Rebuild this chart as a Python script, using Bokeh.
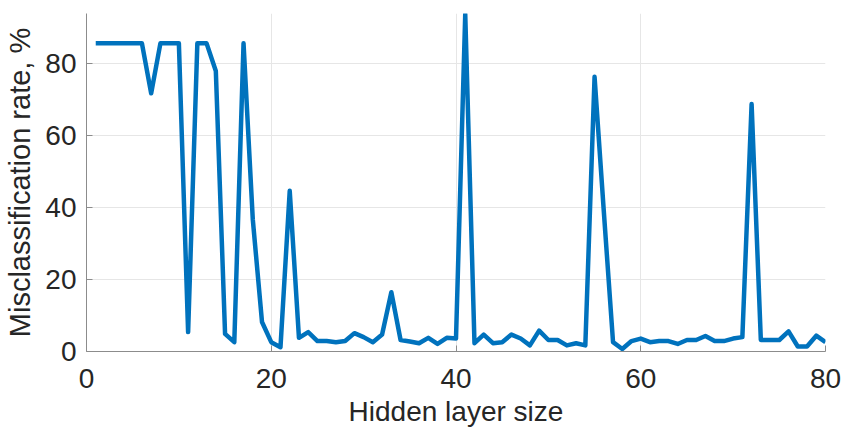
from bokeh.plotting import figure
from bokeh.models import Range1d, FixedTicker
from bokeh.embed import file_html
from bokeh.resources import INLINE

hidden_size = list(range(1, 81))
misclass_rate = [
    85.7, 85.7, 85.7, 85.7, 85.7, 85.7, 71.8, 85.7, 85.7, 85.7,
    5.4, 85.7, 85.7, 78.0, 4.9, 2.6, 85.7, 36.8, 8.2, 2.6,
    1.2, 44.7, 3.8, 5.4, 2.9, 2.9, 2.6, 2.9, 5.1, 4.0,
    2.6, 4.7, 16.5, 3.2, 2.8, 2.3, 3.8, 2.1, 3.8, 3.6,
    93.8, 2.3, 4.7, 2.3, 2.6, 4.7, 3.6, 1.7, 5.8, 3.2,
    3.2, 1.7, 2.3, 1.7, 76.4, 39.0, 2.6, 0.7, 2.9, 3.6,
    2.6, 2.9, 2.9, 2.1, 3.2, 3.2, 4.3, 2.9, 2.9, 3.6,
    4.0, 68.8, 3.2, 3.2, 3.2, 5.6, 1.4, 1.4, 4.4, 2.6,
]
x_ticks = [0, 20, 40, 60, 80]
y_ticks = [0, 20, 40, 60, 80]

FONT = "Liberation Sans"

p = figure(width=841, height=429, output_backend="svg", toolbar_location=None,
           x_range=Range1d(0, 80), y_range=Range1d(0, 94),
           min_border_left=86, min_border_right=16, min_border_top=13, min_border_bottom=78)
p.outline_line_color = None
p.background_fill_color = "white"

p.line(hidden_size, misclass_rate, line_color="#0072BD", line_width=4.5, line_join="round")

for ax in (p.xaxis[0], p.yaxis[0]):
    ax.axis_line_color = "#8c8c8c"
    ax.major_tick_line_color = "#8c8c8c"
    ax.major_tick_in = 6
    ax.major_tick_out = 0
    ax.minor_tick_line_color = None
    ax.major_label_text_font = FONT
    ax.major_label_text_font_size = "28px"
    ax.major_label_text_color = "#262626"
    ax.axis_label_text_font = FONT
    ax.axis_label_text_font_size = "29px"
    ax.axis_label_text_font_style = "normal"
    ax.axis_label_text_color = "#262626"

p.xaxis.axis_label_text_font_size = "28px"
p.xaxis.ticker = FixedTicker(ticks=x_ticks)
p.yaxis.ticker = FixedTicker(ticks=y_ticks)
p.xaxis.axis_label = "Hidden layer size"
p.yaxis.axis_label = "Misclassification rate, %"
p.xaxis.major_label_standoff = 17
p.xaxis.axis_label_standoff = 5
p.yaxis.major_label_standoff = 10
p.yaxis.axis_label_standoff = 6

p.xgrid.ticker = FixedTicker(ticks=x_ticks)
p.ygrid.ticker = FixedTicker(ticks=y_ticks)
p.grid.grid_line_color = "#e6e6e6"
p.grid.grid_line_width = 1

open("out.html", "w").write(file_html(p, INLINE))
